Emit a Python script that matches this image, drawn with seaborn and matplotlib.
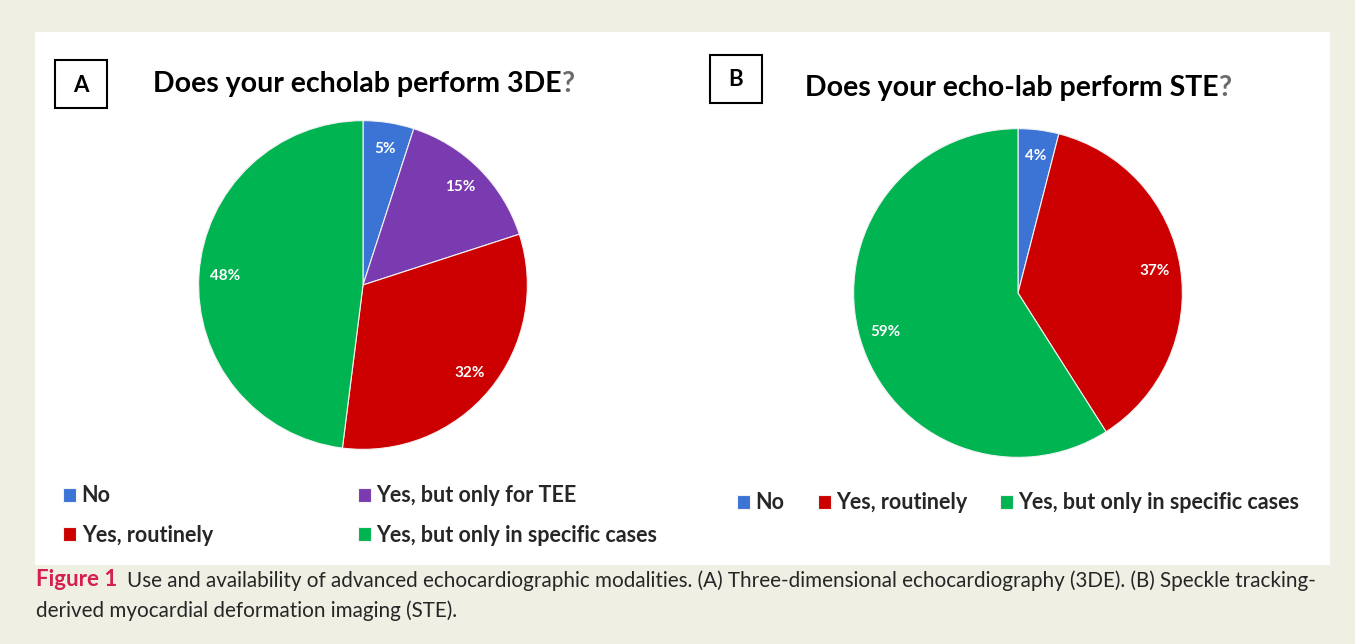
import matplotlib
matplotlib.use('Agg')
import matplotlib.pyplot as plt
import seaborn as sns
from matplotlib.patches import Rectangle

# data
labels_a = ['No', 'Yes, but only for TEE', 'Yes, routinely', 'Yes, but only in specific cases']
values_a = [5, 15, 32, 48]
labels_b = ['No', 'Yes, routinely', 'Yes, but only in specific cases']
values_b = [4, 37, 59]

title_a = 'Does your echolab perform 3DE'
title_b = 'Does your echo-lab perform STE'
caption_1 = ('Use and availability of advanced echocardiographic modalities. (A) Three-dimensional '
             'echocardiography (3DE). (B) Speckle tracking-')
caption_2 = 'derived myocardial deformation imaging (STE).'

sns.set_theme(style='white')
plt.rcParams['font.family'] = ['Lato', 'DejaVu Sans']

colors = {'No': '#3c74d6', 'Yes, but only for TEE': '#7a3bb0',
          'Yes, routinely': '#cc0000', 'Yes, but only in specific cases': '#00b451'}

W, H = 1355, 644
fig = plt.figure(figsize=(W / 100, H / 100), dpi=100)
fig.patch.set_facecolor('#f0efe4')

# white panel
fig.patches.append(Rectangle((35 / W, (H - 565) / H), 1295 / W, 533 / H,
                             transform=fig.transFigure, facecolor='white', edgecolor='none',
                             zorder=-5))


def px_axes(cx, cy, r):
    ax = fig.add_axes([(cx - r) / W, (H - cy - r) / H, 2 * r / W, 2 * r / H])
    ax.set_zorder(2)
    return ax


def draw_pie(ax, labels, values):
    pal = [colors[l] for l in labels]
    wedges, texts = ax.pie(values, colors=pal, startangle=90, counterclock=False,
                           labels=[f'{v}%' for v in values], labeldistance=0.84,
                           wedgeprops=dict(edgecolor='#f2f2f2', linewidth=0.8),
                           textprops=dict(color='white', fontsize=11, fontweight='bold'))
    for t in texts:
        t.set_ha('center')
        t.set_va('center')
    ax.set_xlim(-1.01, 1.01)
    ax.set_ylim(-1.01, 1.01)
    ax.set_aspect('equal')
    return wedges


ax_a = px_axes(363, 285, 166)
wa = draw_pie(ax_a, labels_a, values_a)
ax_b = px_axes(1018, 293, 166)
wb = draw_pie(ax_b, labels_b, values_b)

# panel letters and titles
for x0, y0, letter in [(55, 60, 'A'), (710, 55, 'B')]:
    fig.patches.append(Rectangle((x0 / W, (H - y0 - 48) / H), 52 / W, 48 / H,
                                 transform=fig.transFigure, facecolor='white',
                                 edgecolor='black', linewidth=1.5))
    fig.text((x0 + 26) / W, (H - y0 - 25) / H, letter, ha='center', va='center',
             fontsize=16, fontweight='bold', color='black')

for x0, y0, t in [(153, 84, title_a), (805, 88, title_b)]:
    tx = fig.text(x0 / W, (H - y0) / H, t, ha='left', va='center',
                  fontsize=20.5, fontweight='bold', color='black')
    fig.canvas.draw()
    bb = tx.get_window_extent()
    fig.text(bb.x1 / W, (H - y0) / H, '?', ha='left', va='center',
             fontsize=20.5, fontweight='bold', color='#6b6b6b')

# legends
order = [0, 2, 1, 3]
fig.legend([wa[i] for i in order], [labels_a[i] for i in order], ncol=2,
           loc='upper left', bbox_to_anchor=(44 / W, (H - 466) / H),
           frameon=False, handlelength=0.6, handleheight=0.6, handletextpad=0.25,
           columnspacing=6.75, labelspacing=0.85,
           prop=dict(family='Lato', weight='bold', size=15.5))
fig.legend(wb, labels_b, ncol=3, loc='upper left', bbox_to_anchor=(718 / W, (H - 473) / H),
           frameon=False, handlelength=0.6, handleheight=0.6, handletextpad=0.25,
           columnspacing=1.53, prop=dict(family='Lato', weight='bold', size=15.5))

# caption
t1 = fig.text(36 / W, (H - 580) / H, 'Figure 1', ha='left', va='center',
              fontsize=16, fontweight='bold', color='#d41f4f')
fig.canvas.draw()
bb = t1.get_window_extent()
fig.text((bb.x1 + 10) / W, (H - 581) / H, caption_1, ha='left', va='center',
         fontsize=14.9, color='#262626')
fig.text(36 / W, (H - 611) / H, caption_2, ha='left', va='center',
         fontsize=14.9, color='#262626')

fig.savefig('out.png', dpi=100, facecolor=fig.get_facecolor())
